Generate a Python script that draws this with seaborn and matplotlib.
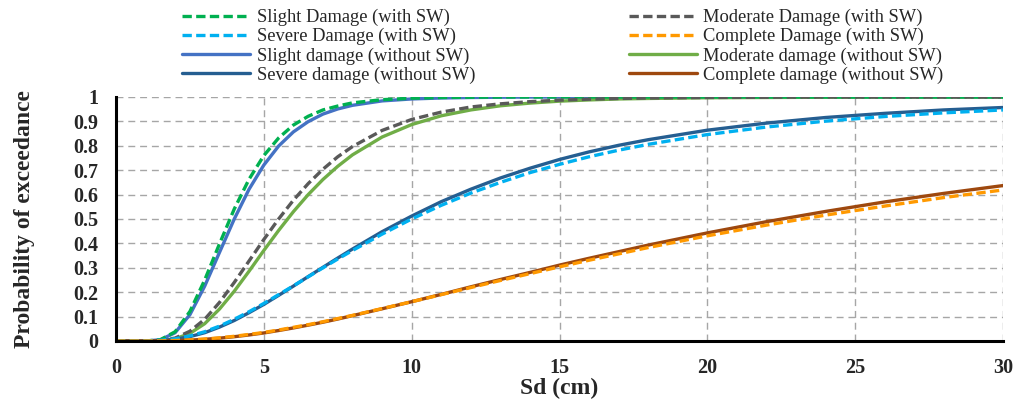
import matplotlib
matplotlib.use("Agg")
import matplotlib.pyplot as plt
import seaborn as sns
import pandas as pd

# ---- data ----
sd = [0, 1, 1.5, 2, 2.5, 3, 3.5, 4, 4.5, 5, 5.5, 6, 6.5, 7, 7.5, 8, 9, 10,
      11, 12, 13, 14, 15, 16, 17, 18, 20, 22, 24, 26, 28, 30]

slight_sw = [0, 0, 0.005, 0.038, 0.121, 0.25, 0.398, 0.541, 0.663, 0.76, 0.832,
             0.885, 0.921, 0.947, 0.963, 0.976, 0.989, 0.995, 0.998, 0.999, 1,
             1, 1, 1, 1, 1, 1, 1, 1, 1, 1, 1]
moderate_sw = [0, 0, 0.002, 0.012, 0.04, 0.089, 0.158, 0.24, 0.328, 0.416, 0.5,
               0.577, 0.645, 0.704, 0.755, 0.797, 0.863, 0.908, 0.938, 0.959,
               0.972, 0.981, 0.987, 0.991, 0.994, 0.996, 0.998, 0.999, 1, 1, 1, 1]
severe_sw = [0, 0.0004, 0.003, 0.009, 0.021, 0.038, 0.061, 0.089, 0.12, 0.154,
             0.19, 0.226, 0.263, 0.3, 0.336, 0.371, 0.438, 0.5, 0.556, 0.606,
             0.65, 0.69, 0.724, 0.755, 0.782, 0.806, 0.846, 0.877, 0.901, 0.92,
             0.935, 0.947]
complete_sw = [0, 0.0001, 0.0006, 0.002, 0.0044, 0.008, 0.013, 0.0193, 0.027,
               0.035, 0.045, 0.056, 0.067, 0.079, 0.092, 0.105, 0.133, 0.161,
               0.19, 0.219, 0.248, 0.276, 0.304, 0.331, 0.357, 0.383, 0.431,
               0.475, 0.516, 0.553, 0.588, 0.619]

slight_wo = [0, 0, 0.005, 0.034, 0.108, 0.225, 0.363, 0.5, 0.622, 0.721, 0.799,
             0.857, 0.899, 0.93, 0.951, 0.966, 0.984, 0.992, 0.996, 0.998, 0.999,
             1, 1, 1, 1, 1, 1, 1, 1, 1, 1, 1]
moderate_wo = [0, 0, 0.001, 0.009, 0.031, 0.071, 0.131, 0.204, 0.286, 0.371,
               0.453, 0.53, 0.6, 0.662, 0.716, 0.763, 0.836, 0.887, 0.923, 0.947,
               0.964, 0.975, 0.983, 0.988, 0.992, 0.994, 0.997, 0.998, 0.999, 1,
               1, 1]
severe_wo = [0, 0.0002, 0.002, 0.007, 0.018, 0.034, 0.057, 0.084, 0.116, 0.15,
             0.187, 0.225, 0.264, 0.302, 0.34, 0.377, 0.448, 0.512, 0.571, 0.622,
             0.668, 0.708, 0.744, 0.775, 0.802, 0.825, 0.864, 0.893, 0.916,
             0.933, 0.947, 0.957]
complete_wo = [0, 0.0001, 0.0005, 0.0016, 0.0037, 0.007, 0.0116, 0.0176, 0.0248,
               0.033, 0.043, 0.0535, 0.065, 0.077, 0.09, 0.104, 0.132, 0.161,
               0.191, 0.222, 0.252, 0.281, 0.311, 0.339, 0.366, 0.393, 0.443,
               0.489, 0.531, 0.57, 0.605, 0.637]

labels = ["Slight Damage (with SW)", "Moderate Damage (with SW)",
          "Severe Damage (with SW)", "Complete Damage (with SW)",
          "Slight damage (without SW)", "Moderate damage (without SW)",
          "Severe damage (without SW)", "Complete damage (without SW)"]
x_ticks = [0, 5, 10, 15, 20, 25, 30]
y_ticks = [0, 0.1, 0.2, 0.3, 0.4, 0.5, 0.6, 0.7, 0.8, 0.9, 1]
y_tick_labels = ["0", "0.1", "0.2", "0.3", "0.4", "0.5", "0.6", "0.7", "0.8", "0.9", "1"]

series = [slight_sw, moderate_sw, severe_sw, complete_sw,
          slight_wo, moderate_wo, severe_wo, complete_wo]
colors = ["#00B050", "#595959", "#00B0F0", "#FF9900",
          "#4472C4", "#70AD47", "#255E91", "#9E480E"]
dashed = [True, True, True, True, False, False, False, False]

sns.set_theme(style="white")
plt.rcParams["font.family"] = ["Liberation Serif", "DejaVu Serif"]

fig = plt.figure(figsize=(10.17, 4.08), dpi=100)
ax = fig.add_axes([116 / 1017, 67 / 408, (1003 - 116) / 1017, (341 - 97) / 408])

# solid lines first, dashed on top
order = [4, 5, 6, 7, 0, 1, 2, 3]
lines = {}
for i in order:
    df = pd.DataFrame({"Sd": sd, "P": series[i]})
    sns.lineplot(data=df, x="Sd", y="P", ax=ax, color=colors[i], lw=2.4,
                 legend=False)
    ln = ax.get_lines()[-1]
    ln.set_label(labels[i])
    ln.set_zorder(3)
    if dashed[i]:
        ln.set_linestyle((0, (2.8, 1.3)))
        ln.set_zorder(4)
    lines[i] = ln

ax.set_xlim(0, 30)
ax.set_ylim(0, 1)
ax.set_xticks(x_ticks)
ax.set_yticks(y_ticks)
ax.set_yticklabels(y_tick_labels)
ax.grid(True, color="#A6A6A6", lw=1.0, linestyle=(0, (5, 3.5)), zorder=0)
ax.set_axisbelow(True)

for s in ["top", "right"]:
    ax.spines[s].set_visible(False)
for s in ["left", "bottom"]:
    ax.spines[s].set_color("black")
    ax.spines[s].set_linewidth(2.2)
    ax.spines[s].set_zorder(5)

ax.tick_params(axis="both", direction="in", length=5, width=1.6, color="black",
               labelsize=14.5)
ax.tick_params(axis="y", pad=13)
ax.tick_params(axis="x", pad=12)
for t in ax.get_xticklabels() + ax.get_yticklabels():
    t.set_fontweight("bold")

ax.set_xlabel("Sd (cm)", fontsize=17, fontweight="bold", labelpad=0)
ax.set_ylabel("Probability of exceedance", fontsize=17, fontweight="bold",
              labelpad=27)

leg_order = [0, 2, 4, 6, 1, 3, 5, 7]
fig.legend([lines[i] for i in leg_order], [labels[i] for i in leg_order],
           ncol=2, loc="upper left", bbox_to_anchor=(182 / 1017, 1 - 9 / 408),
           bbox_transform=fig.transFigure,
           frameon=False, fontsize=13.3, handlelength=3.7, handletextpad=0.35,
           columnspacing=8.3, labelspacing=0.1, borderpad=0.0, borderaxespad=0.0)

fig.savefig("out.png", dpi=100)
